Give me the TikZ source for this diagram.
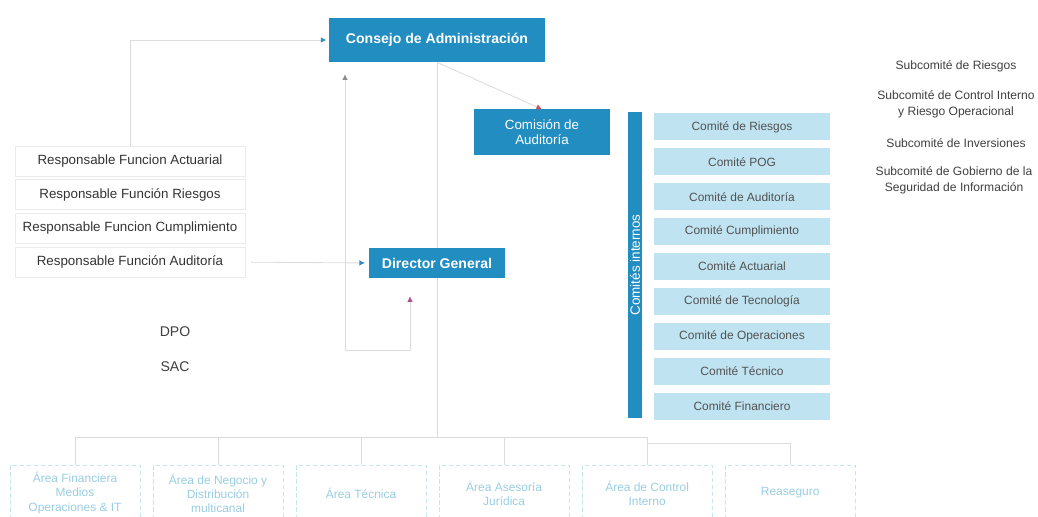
\documentclass[tikz,border=0pt]{standalone}
\usepackage{fontspec}
\setmainfont{Liberation Sans}
\usetikzlibrary{positioning,arrows.meta}

\definecolor{boardblue}{HTML}{218DC0}
\definecolor{comlight}{HTML}{BFE3F1}
\definecolor{arealine}{HTML}{C6E6EF}
\definecolor{areatext}{HTML}{98CDE2}
\definecolor{linkgray}{HTML}{DCDCDC}
\definecolor{tipblue}{HTML}{2A8FC4}
\definecolor{tipred}{HTML}{C8505A}
\definecolor{tippurple}{HTML}{A8508A}

\tikzstyle{board} = [rectangle, minimum width=5.375cm, minimum height=1.1cm,
text centered, fill=boardblue, text=white, font=\fontsize{10}{12}\selectfont\bfseries]
\tikzstyle{audit} = [rectangle, minimum width=3.375cm, minimum height=1.125cm,
                     align=center, fill=boardblue, text=white,
                     font=\fontsize{9.5}{11}\selectfont]
\tikzstyle{director} = [rectangle, minimum width=3.375cm, minimum height=0.75cm,
                        text centered, fill=boardblue, text=white,
                        font=\fontsize{10}{12}\selectfont\bfseries]
\tikzstyle{combar} = [rectangle, minimum width=7.65cm, minimum height=0.35cm,
                      inner sep=0pt, rotate=90, fill=boardblue, text=white,
                      font=\fontsize{9.6}{11}\selectfont]
\tikzstyle{comite} = [rectangle, minimum width=4.375cm, minimum height=0.675cm,
                      text centered, fill=comlight, text=black!68,
                      font=\fontsize{8.5}{10}\selectfont]
\tikzstyle{resp} = [rectangle, minimum width=5.75cm, minimum height=0.75cm,
                    text centered, draw=black!8, text=black!80,
                    font=\fontsize{9.5}{11}\selectfont]
\tikzstyle{subcom} = [align=center, text=black!75, font=\fontsize{8.6}{11.5}\selectfont]
\tikzstyle{plain} = [text=black!75, font=\fontsize{10}{12}\selectfont]
\tikzstyle{area} = [rectangle, minimum width=3.25cm, minimum height=1.4cm,
                    align=center, draw=arealine, densely dashed, text=areatext,
                    font=\fontsize{8.5}{10}\selectfont]
\tikzstyle{line} = [linkgray, line width=0.6pt]
\tikzstyle{arrowblue} = [line, -{Latex[length=4pt,width=4pt,color=tipblue]}]
\tikzstyle{arrowred} = [line, -{Latex[length=4pt,width=4pt,color=tipred]}]
\tikzstyle{arrowpurple} = [line, -{Latex[length=4pt,width=4pt,color=tippurple]}]
\tikzstyle{arrowgray} = [line, -{Latex[length=4pt,width=4pt,color=black!45]}]

\begin{document}
\begin{tikzpicture}[x=0.025cm, y=-0.025cm]
  \useasboundingbox (0,0) rectangle (1038,517);
  %blocks
  \node (consejo) [board] at (437,40) {Consejo de Administración};
  \node (comision) [audit] at (542,132) {Comisión de\\Auditoría};
  \node (dg) [director] at (437,263) {Director General};
  \node (bar) [combar] at (635,265) {Comités internos};
  % comites
  \begin{scope}[node distance=0.8725cm]
  \node (c1) [comite] at (742,127) {Comité de Riesgos};
  \node (c2) [comite, below of=c1] {Comité POG};
  \node (c3) [comite, below of=c2] {Comité de Auditoría};
  \node (c4) [comite, below of=c3] {Comité Cumplimiento};
  \node (c5) [comite, below of=c4] {Comité Actuarial};
  \node (c6) [comite, below of=c5] {Comité de Tecnología};
  \node (c7) [comite, below of=c6] {Comité de Operaciones};
  \node (c8) [comite, below of=c7] {Comité Técnico};
  \node (c9) [comite, below of=c8] {Comité Financiero};
  \end{scope}
  % subcomites
  \node (s1) [subcom] at (956,66) {Subcomité de Riesgos};
  \node (s2) [subcom] at (956,104) {Subcomité de Control Interno\\y Riesgo Operacional};
  \node (s3) [subcom] at (956,143) {Subcomité de Inversiones};
  \node (s4) [subcom] at (954,180) {Subcomité de Gobierno de la\\Seguridad de Información};
  % responsables
  \begin{scope}[node distance=0.8425cm]
  \node (r1) [resp] at (130,161) {Responsable Funcion Actuarial};
  \node (r2) [resp, below of=r1] {Responsable Función Riesgos};
  \node (r3) [resp, below of=r2] {Responsable Funcion Cumplimiento};
  \node (r4) [resp, below of=r3] {Responsable Función Auditoría};
  \end{scope}
  \node (dpo) [plain] at (175,332) {DPO};
  \node (sac) [plain] at (175,367) {SAC};
  % areas
  \begin{scope}[node distance=3.575cm]
  \node (a1) [area] at (75,493) {Área Financiera\\Medios\\Operaciones \& IT};
  \node (a2) [area, right of=a1] {Área de Negocio y\\Distribución\\multicanal};
  \node (a3) [area, right of=a2] {Área Técnica};
  \node (a4) [area, right of=a3] {Área Asesoría\\Jurídica};
  \node (a5) [area, right of=a4] {Área de Control\\Interno};
  \node (a6) [area, right of=a5] {Reaseguro};
  \end{scope}
  %connections
  % responsables -> consejo
  \draw [arrowblue, shorten >=2pt] (r1.north) |- (consejo.west);
  % responsable auditoria -> director
  \draw [arrowblue, shorten >=3pt, shorten <=4pt] (r4.east) -- (dg.west);
  % consejo -> comision
  \draw [arrowred] (consejo.south) -- (comision.north);
  % director <-> consejo
  \coordinate (j1) at (345,350);
  \coordinate (j2) at (410,350);
  \draw [arrowgray, shorten >=0.3cm] (j1) -- (j1 |- consejo.south);
  \draw [arrowpurple, shorten >=0.45cm] (j1) -- (j2) -- (j2 |- dg.south);
  % consejo -> director -> areas
  \draw [line] (consejo.south) -- (dg.north);
  \coordinate (bus) at (0,437);
  \coordinate (bus2) at (0,443);
  \draw [line] (dg.south) -- (dg.south |- bus);
  \draw [line] (a1.north) -- (a1.north |- bus) -- (a5.north |- bus) -- (a5.north);
  \draw [line] (a2.north) -- (a2.north |- bus);
  \draw [line] (a3.north) -- (a3.north |- bus);
  \draw [line] (a4.north) -- (a4.north |- bus);
  \draw [line] (a5.north |- bus2) -- (a6.north |- bus2) -- (a6.north);
\end{tikzpicture}
\end{document}
